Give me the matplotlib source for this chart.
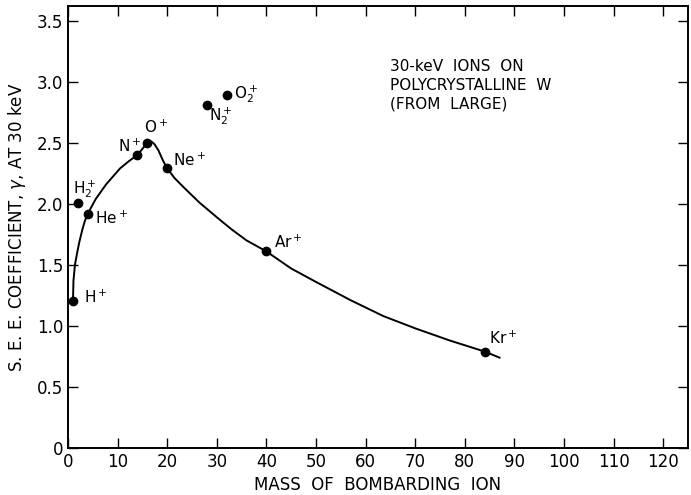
import matplotlib
matplotlib.use("Agg")
import matplotlib.pyplot as plt

# measured ions
ions = ["H", "H2", "He", "N", "O", "Ne", "Ar", "Kr", "N2", "O2"]
ion_labels = ["H$^+$", "H$_2^+$", "He$^+$", "N$^+$", "O$^+$", "Ne$^+$", "Ar$^+$", "Kr$^+$", "N$_2^+$", "O$_2^+$"]
mass = [1, 2, 4, 14, 16, 20, 40, 84, 28, 32]
gamma = [1.20, 2.01, 1.92, 2.40, 2.50, 2.29, 1.61, 0.79, 2.81, 2.89]

# hand-drawn curve
curve_x = [1.0, 1.1, 1.4, 1.8, 2.3, 2.9, 3.4, 4.0, 5.6, 7.7, 10.5, 12.3, 14.0,
           15.2, 16.0, 16.8, 17.4, 18.2, 19.2, 20.0, 21.5, 23.2, 26.5, 30.0, 33.0,
           36.0, 40.0, 45.0, 50.0, 57.0, 63.6, 70.0, 77.0, 84.0, 87.0]
curve_y = [1.20, 1.37, 1.50, 1.59, 1.69, 1.79, 1.86, 1.92, 2.04, 2.16, 2.29, 2.35, 2.40,
           2.46, 2.50, 2.51, 2.49, 2.44, 2.35, 2.29, 2.21, 2.14, 2.01, 1.89, 1.79,
           1.70, 1.61, 1.47, 1.36, 1.21, 1.08, 0.98, 0.88, 0.79, 0.74]

x_ticks = [0, 10, 20, 30, 40, 50, 60, 70, 80, 90, 100, 110, 120]
y_ticks = [0, 0.5, 1.0, 1.5, 2.0, 2.5, 3.0, 3.5]
y_tick_labels = ["0", "0.5", "1.0", "1.5", "2.0", "2.5", "3.0", "3.5"]

# label offsets in pixels (dx, dy, ha)
offsets = [(11, 4, "left"), (-5, 13, "left"), (7, -5, "left"), (-8, 9, "center"),
           (9, 15, "center"), (6, 8, "left"), (8, 9, "left"), (4, 13, "left"),
           (2, -11, "left"), (7, 1, "left")]

fig = plt.figure(figsize=(6.91, 4.95), dpi=100)
ax = fig.add_axes([68 / 691, 47 / 495, 620 / 691, 442 / 495])

ax.plot(curve_x, curve_y, color="black", lw=1.4, zorder=2, solid_joinstyle="round")
ax.plot(mass, gamma, "o", color="black", ms=6, zorder=3)

for m, g, lab, (dx, dy, ha) in zip(mass, gamma, ion_labels, offsets):
    ax.annotate(lab, (m, g), xytext=(dx, dy), textcoords="offset pixels",
                ha=ha, va="center", fontsize=11)

ax.text(65, 3.19, "30-keV  IONS  ON\nPOLYCRYSTALLINE  W\n(FROM  LARGE)",
        ha="left", va="top", fontsize=11, linespacing=1.35)

ax.set_xlim(0, 125)
ax.set_ylim(0, 3.62)
ax.set_xticks(x_ticks)
ax.set_yticks(y_ticks)
ax.set_yticklabels(y_tick_labels)
ax.tick_params(direction="in", length=7, width=1.0, labelsize=12,
               top=True, right=True, labeltop=False, labelright=False)
for s in ax.spines.values():
    s.set_linewidth(1.4)

ax.set_xlabel("MASS  OF  BOMBARDING  ION", fontsize=12, labelpad=4)
ax.set_ylabel("S. E. E. COEFFICIENT, $\\gamma$, AT 30 keV", fontsize=12, labelpad=6)

fig.savefig("out.png", dpi=100)
